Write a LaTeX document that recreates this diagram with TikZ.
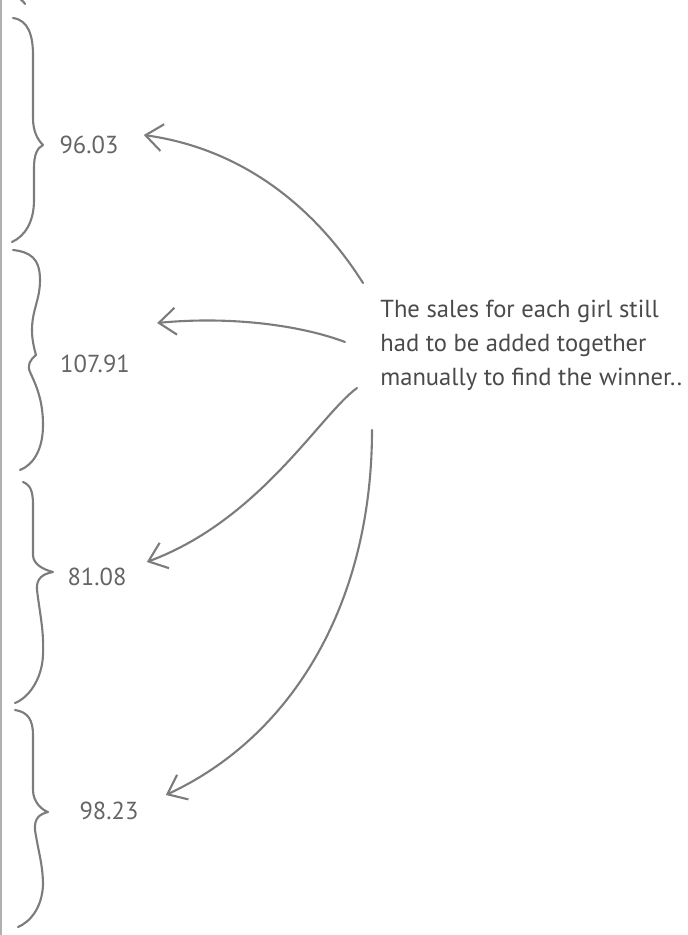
\documentclass[tikz,border=0pt]{standalone}
\usepackage{fontspec}
\setmainfont{PT Sans}
\usepackage{xcolor}
\usetikzlibrary{arrows.meta,positioning}
\definecolor{pencil}{HTML}{7C7C7C}
\definecolor{ink}{HTML}{4A4A4A}

\begin{document}
\begin{tikzpicture}[x=0.02cm,y=-0.02cm,
  curly/.style={draw=pencil,line width=1.2pt,line cap=round,line join=round},
  arr/.style={draw=pencil,line width=1.2pt,line cap=round,-{Straight Barb[length=3.4mm,width=5.4mm]}},
  amount/.style={text=ink!85,font=\fontsize{14}{16}\selectfont,inner sep=0pt},
  note/.style={text=ink,font=\fontsize{14}{19.3}\selectfont,align=left,inner sep=0pt}]
\useasboundingbox (0,0) rectangle (687,935);
\draw[pencil!60,line width=0.6pt] (1,0)--(1,935);
% braces down the left side
\draw[curly] (21,0) .. controls (23,1) and (24,2) .. (25,4);
\draw[curly] (13,18) .. controls (28,20) and (33,35) .. (33,55) -- (33,118) .. controls (33,132) and (38,140) .. (43,145) .. controls (37,148) and (34,155) .. (34,168) -- (34,200) .. controls (34,222) and (25,236) .. (12,242);
\draw[curly] (13,250) .. controls (30,252) and (40,258) .. (40,280) .. controls (40,300) and (32,310) .. (32,330) .. controls (32,340) and (34,348) .. (36,355) .. controls (30,360) and (27,365) .. (30,372) .. controls (36,385) and (43,400) .. (43,425) .. controls (43,450) and (33,465) .. (20,470);
\draw[curly] (23,482) .. controls (30,485) and (33,490) .. (33,505) -- (33,555) .. controls (33,565) and (45,570) .. (53,572) .. controls (43,574) and (36,578) .. (37,590) .. controls (40,615) and (44,630) .. (43,655) .. controls (42,680) and (28,698) .. (15,703);
\draw[curly] (15,710) .. controls (28,712) and (33,720) .. (33,735) -- (33,790) .. controls (33,802) and (42,810) .. (48,812) .. controls (40,814) and (34,818) .. (35,830) .. controls (38,850) and (43,865) .. (43,885) .. controls (42,908) and (30,922) .. (18,927);
% totals
\node[amount] (n1) at (89,145) {96.03};
\node[amount] (n2) at (95,364) {107.91};
\node[amount] (n3) at (97,577) {81.08};
\node[amount] (n4) at (109,811) {98.23};
% the note and its arrows
\node[note,anchor=north west] (note) at (380,300) {The sales for each girl still\\had to be added together\\manually to find the winner..};
\coordinate (s1) at ([shift={(-17,-17)}]note.north west);
\coordinate (s2) at ([shift={(-35,42)}]note.north west);
\coordinate (s3) at ([shift={(-23,88)}]note.north west);
\coordinate (s4) at ([shift={(-8,130)}]note.north west);
\draw[arr] (s1) .. controls (320,215) and (250,150) .. ([shift={(25,-10)}]n1.east);
\draw[arr] (s2) .. controls (300,325) and (230,316) .. ([shift={(27,-41)}]n2.east);
\draw[arr] (s3) .. controls (320,415) and (260,520) .. ([shift={(20,-15)}]n3.east);
\draw[arr] (s4) .. controls (372,600) and (295,735) .. ([shift={(27,-16)}]n4.east);
\end{tikzpicture}
\end{document}
